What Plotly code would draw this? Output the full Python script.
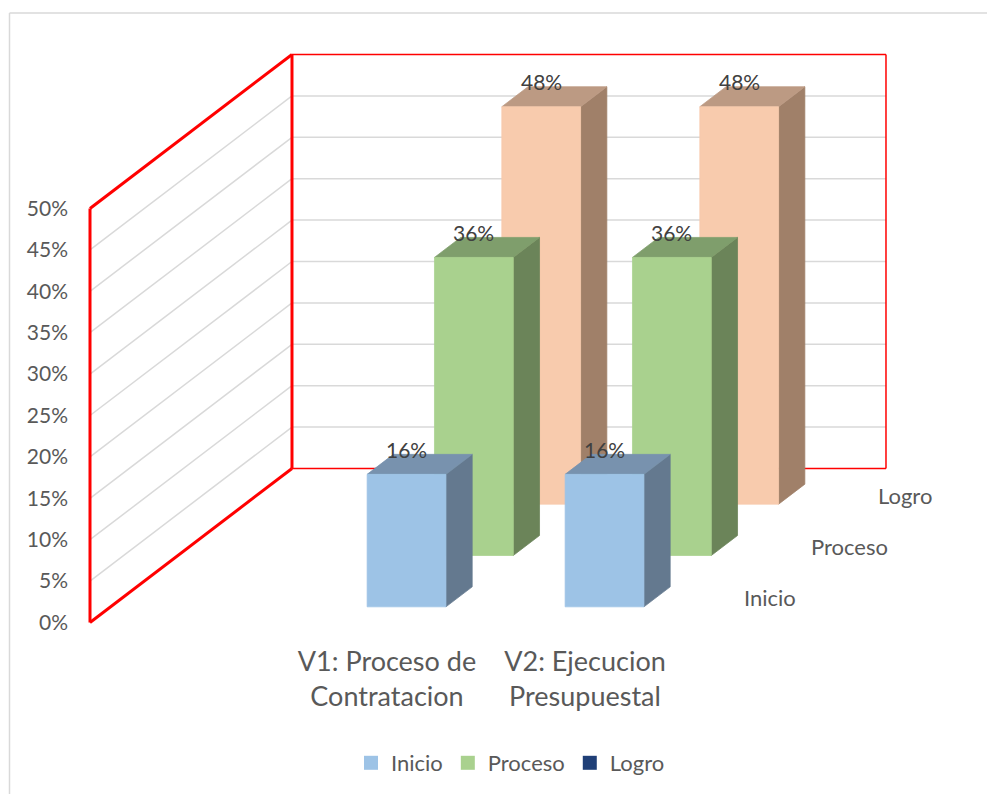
import plotly.graph_objects as go

# ---- data ----
categories = ["", "V1: Proceso de<br>Contratacion", "V2: Ejecucion<br>Presupuestal"]
series_names = ["Inicio", "Proceso", "Logro"]
inicio = [None, 0.16, 0.16]
proceso = [None, 0.36, 0.36]
logro = [None, 0.48, 0.48]
value_ticks = [0, 0.05, 0.10, 0.15, 0.20, 0.25, 0.30, 0.35, 0.40, 0.45, 0.50]

# ---- styles ----
front = ["#9DC3E6", "#A9D18E", "#F8CBAD"]
side = ["#64798F", "#6B8459", "#A08069"]
top = ["#7892AE", "#7F9E6C", "#BC9A83"]
legend_col = ["#9DC3E6", "#A9D18E", "#1F3F77"]

# the page adds an 8 px body margin, so the figure is 8 px smaller than the window
W, H = 987, 786
X0, Y0 = 82, 614.5      # pixel of category 0 / value 0 at the front of the floor
PX_CAT = 198            # pixels per category
PX_VAL = 414 / 0.5      # pixels per unit of value
DX, DY = 67.33, 51.33   # pixel shift per series slot going back
BAR_W = 78.8 / PX_CAT
BAR_D = 0.39
GAP_D = (1 - BAR_D) / 2
BAR_NUDGE = 1 / PX_CAT


def pr(cat, val, depth):
    """oblique projection of (category, value, series depth) on the flat axes"""
    return cat + depth * DX / PX_CAT, val + depth * DY / PX_VAL


def poly(points, color, line=None):
    xs, ys = zip(*[pr(*p) for p in points + points[:1]])
    return go.Scatter(x=xs, y=ys, mode="lines", fill="toself", fillcolor=color,
                      line=dict(color=line or color, width=0.75),
                      hoverinfo="skip", showlegend=False)


def seg(a, b, color, width):
    xs, ys = zip(pr(*a), pr(*b))
    return go.Scatter(x=xs, y=ys, mode="lines", line=dict(color=color, width=width),
                      hoverinfo="skip", showlegend=False)


fig = go.Figure()

NC, NS = len(categories), len(series_names)
VMAX = value_ticks[-1]

# walls: grid lines
for v in value_ticks[1:-1]:
    fig.add_trace(seg((0, v, 0), (0, v, NS), "#D9D9D9", 1.5))
    fig.add_trace(seg((0, v, NS), (NC, v, NS), "#D9D9D9", 1.5))
# walls: outline
for a, b, w in [
    ((0, VMAX, NS), (NC, VMAX, NS), 1.5),
    ((NC, VMAX, NS), (NC, 0, NS), 1.5),
    ((NC, 0, NS), (0, 0, NS), 1.5),
    ((0, 0, 0), (0, VMAX, 0), 3),
    ((0, VMAX, 0), (0, VMAX, NS), 3),
    ((0, VMAX, NS), (0, 0, NS), 3),
    ((0, 0, NS), (0, 0, 0), 3),
]:
    fig.add_trace(seg(a, b, "#FF0000", w))

# bars, back to front
for s, values in reversed(list(enumerate([inicio, proceso, logro]))):
    for c, v in enumerate(values):
        if v is None:
            continue
        x0 = c + (1 - BAR_W) / 2 - BAR_NUDGE
        x1 = x0 + BAR_W
        d0 = s + GAP_D
        d1 = d0 + BAR_D
        fig.add_trace(poly([(x1, 0, d0), (x1, 0, d1), (x1, v, d1), (x1, v, d0)], side[s]))
        fig.add_trace(poly([(x0, v, d0), (x1, v, d0), (x1, v, d1), (x0, v, d1)], top[s]))
        fig.add_trace(poly([(x0, 0, d0), (x1, 0, d0), (x1, v, d0), (x0, v, d0)], front[s]))

# legend entries
for name, col in zip(series_names, legend_col):
    fig.add_trace(go.Scatter(x=[None], y=[None], mode="markers", name=name,
                             marker=dict(symbol="square", size=14, color=col)))

FONT = "Lato, Carlito, 'Open Sans', sans-serif"

# data labels
ann = []
for s, values in enumerate([inicio, proceso, logro]):
    for c, v in enumerate(values):
        if v is None:
            continue
        x, y = pr(c + 0.5 - BAR_NUDGE, v, s + GAP_D)
        ann.append(dict(x=x, y=y, text=f"{v:.0%}", showarrow=False, yshift=25,
                        xanchor="center", yanchor="middle",
                        font=dict(family=FONT, size=21, color="#404040")))

# series axis labels
for s, name in enumerate(series_names):
    x, y = pr(NC, 0, s + 0.5)
    ann.append(dict(x=x, y=y, text=name, showarrow=False, xshift=24, yshift=-1,
                    xanchor="left", yanchor="middle",
                    font=dict(family=FONT, size=22, color="#595959")))

BORDER = dict(color="#D9D9D9", width=1.5)
fig.update_layout(
    width=W, height=H, autosize=False,
    margin=dict(l=0, r=0, t=0, b=0),
    paper_bgcolor="white", plot_bgcolor="white",
    font=dict(family=FONT, color="#595959"),
    annotations=ann,
    shapes=[
        dict(type="line", xref="paper", yref="paper", x0=1.5 / W, x1=1.5 / W, y0=0, y1=1 - 5 / H,
             line=BORDER, layer="below"),
        dict(type="line", xref="paper", yref="paper", x0=1.5 / W, x1=1, y0=1 - 5 / H, y1=1 - 5 / H,
             line=BORDER, layer="below"),
    ],
    legend=dict(orientation="h", x=343 / W, y=1 - 734 / H, xanchor="left", yanchor="top",
                font=dict(family=FONT, size=22, color="#595959"),
                itemwidth=30, bgcolor="rgba(0,0,0,0)", traceorder="normal"),
    xaxis=dict(range=[-X0 / PX_CAT, (W - X0) / PX_CAT], domain=[0, 1], showgrid=False,
               zeroline=False, showline=False, anchor="free", position=(H - Y0) / H,
               tickmode="array", tickvals=[c + 0.5 for c in range(1, NC)],
               ticktext=categories[1:], ticks="", ticklabelstandoff=20,
               tickfont=dict(family=FONT, size=27, color="#595959")),
    yaxis=dict(range=[-(H - Y0) / PX_VAL, Y0 / PX_VAL], domain=[0, 1], showgrid=False,
               zeroline=False, showline=False, anchor="free", position=X0 / W,
               tickmode="array", tickvals=value_ticks,
               ticktext=[f"{v:.0%}" for v in value_ticks], ticks="", ticklabelstandoff=22,
               tickfont=dict(family=FONT, size=21, color="#595959")),
)

fig.write_html("out.html")
